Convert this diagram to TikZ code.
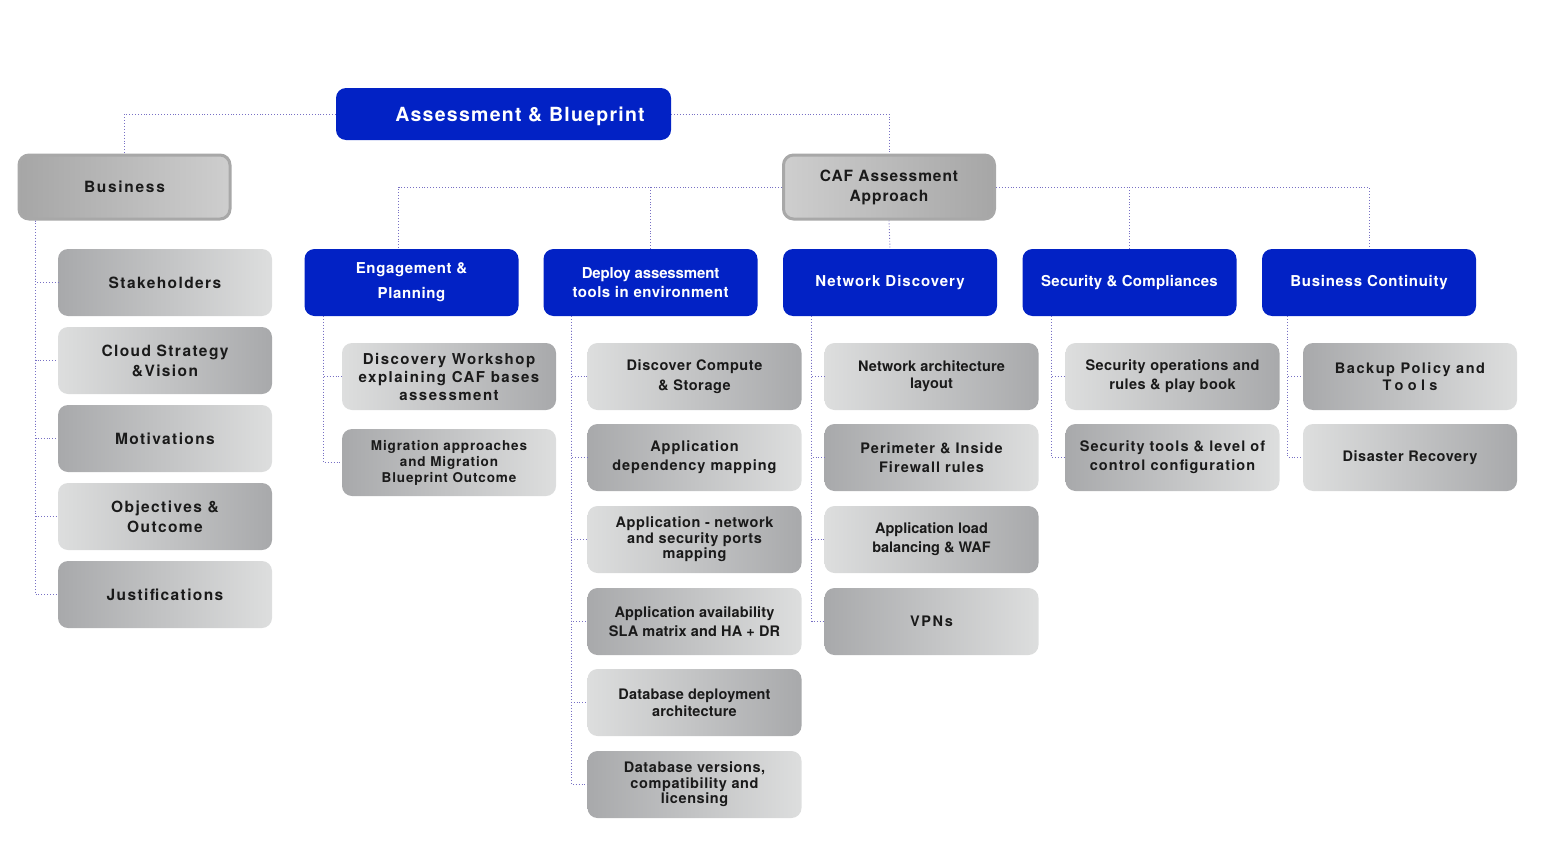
\documentclass[tikz,border=0pt]{standalone}
\usepackage{fontspec}
\setmainfont{TeX Gyre Heros}
\usetikzlibrary{calc}
\definecolor{cblue}{RGB}{2,34,197}
\definecolor{cdark}{RGB}{168,169,171}
\definecolor{cmid}{RGB}{212,213,213}
\definecolor{clight}{RGB}{221,222,222}
\definecolor{cbdark}{RGB}{166,166,166}
\definecolor{cblight}{RGB}{206,206,206}
\definecolor{cconn}{RGB}{120,112,196}
\definecolor{ctext}{RGB}{26,26,26}
\definecolor{cborder}{RGB}{168,168,168}
\newcommand{\gfont}{\fontsize{14.5}{19}\selectfont\bfseries\addfontfeature{LetterSpace=4}}
\newcommand{\lfont}{\fontsize{15.5}{20}\selectfont\bfseries\addfontfeature{LetterSpace=9}}
\newcommand{\bfontx}{\fontsize{15}{19}\selectfont\bfseries}
\tikzset{
  base/.style={rounded corners=10pt, minimum width=214pt, minimum height=67pt, align=center, inner sep=0pt},
  bluebox/.style={base, fill=cblue, text=white, font=\bfontx},
  gl/.style={base, left color=cdark, middle color=cmid, right color=clight, text=ctext, font=\gfont},
  gr/.style={base, left color=clight, middle color=cmid, right color=cdark, text=ctext, font=\gfont},
  topbox/.style={base, minimum width=211pt, minimum height=64pt, draw=cborder, line width=3pt, text=ctext, font=\fontsize{15.5}{20}\selectfont\bfseries\addfontfeature{LetterSpace=6}},
  conn/.style={draw=cconn, line width=0.9pt, dotted},
}
\begin{document}
\begin{tikzpicture}[x=1pt,y=-1pt]
\useasboundingbox (0,0) rectangle (1549,859);
% top
\node[base, fill=cblue, minimum width=335pt, minimum height=52pt] (ab) at (503.5,114) {};
\node[text=white, font=\fontsize{19.5}{22}\selectfont\bfseries\addfontfeature{LetterSpace=6.5}] (abt) at (520,116) {Assessment \& Blueprint};
\node[topbox, left color=cbdark, right color=cblight, font=\fontsize{15.5}{20}\selectfont\bfseries\addfontfeature{LetterSpace=11}] (bus) at (124.5,187) {Business};
\node[topbox, left color=cblight, right color=cbdark] (caf) at (889,187) {CAF Assessment\\Approach};
% blue row
\node[bluebox, font=\fontsize{15}{25}\selectfont\bfseries\addfontfeature{LetterSpace=4}] (eng) at (411.5,282.5) {Engagement \&\\Planning};
\node[bluebox] (dep) at (650.5,282.5) {{\addfontfeature{LetterSpace=-1}Deploy assessment}\\{\addfontfeature{LetterSpace=3.5}tools in environment}};
\node[bluebox] (net) at (890,282.5) {\addfontfeature{LetterSpace=6.5}Network Discovery};
\node[bluebox] (sec) at (1129.5,282.5) {\addfontfeature{LetterSpace=1.7}Security \& Compliances};
\node[bluebox] (bc) at (1369,282.5) {\addfontfeature{LetterSpace=4.8}Business Continuity};
% business children
\node[gl, font=\lfont] (b1) at (165,282.5) {Stakeholders};
\node[gr, font=\lfont] (b2) at (165,360.5) {Cloud Strategy\\\&Vision};
\node[gl, font=\lfont] (b3) at (165,438.5) {Motivations};
\node[gr, font=\lfont] (b4) at (165,516.5) {Objectives \&\\Outcome};
\node[gl, font=\lfont] (b5) at (165,594.5) {Justifications};
% engagement children
\node[gr, font=\fontsize{15}{18}\selectfont\bfseries\addfontfeature{LetterSpace=10}] (e1) at (449,376.5) {Discovery Workshop\\explaining CAF bases\\assessment};
\node[gl, font=\fontsize{13.5}{16}\selectfont\bfseries\addfontfeature{LetterSpace=6.5}] (e2) at (449,462.5) {Migration approaches\\and Migration\\Blueprint Outcome};
% deploy children
\node[gr, font=\fontsize{14.5}{20}\selectfont\bfseries\addfontfeature{LetterSpace=4}] (d1) at (694.5,376.5) {Discover Compute\\\& Storage};
\node[gl, font=\fontsize{14.5}{19}\selectfont\bfseries\addfontfeature{LetterSpace=6.5}] (d2) at (694.5,457.5) {Application\\dependency mapping};
\node[gr, font=\fontsize{14.5}{15.5}\selectfont\bfseries\addfontfeature{LetterSpace=4}] (d3) at (694.5,539.5) {Application - network\\and security ports\\mapping};
\node[gl, font=\fontsize{14.5}{19.5}\selectfont\bfseries\addfontfeature{LetterSpace=1}] (d4) at (694.5,621.5) {Application availability\\SLA matrix and HA + DR};
\node[gr, font=\fontsize{14.5}{17}\selectfont\bfseries\addfontfeature{LetterSpace=1}] (d5) at (694.5,702.5) {Database deployment\\architecture};
\node[gl, font=\fontsize{14.5}{15.5}\selectfont\bfseries\addfontfeature{LetterSpace=4}] (d6) at (694.5,784.5) {Database versions,\\compatibility and\\licensing};
% network children
\node[gr, font=\fontsize{14.5}{17}\selectfont\bfseries\addfontfeature{LetterSpace=1}] (n1) at (931.5,376.5) {Network architecture\\layout};
\node[gl, font=\fontsize{14.5}{19}\selectfont\bfseries\addfontfeature{LetterSpace=7}] (n2) at (931.5,457.5) {Perimeter \& Inside\\Firewall rules};
\node[gr, font=\fontsize{14.5}{19}\selectfont\bfseries\addfontfeature{LetterSpace=0}] (n3) at (931.5,539.5) {Application load\\balancing \& WAF};
\node[gl, font=\fontsize{14.5}{19}\selectfont\bfseries\addfontfeature{LetterSpace=11}] (n4) at (931.5,621.5) {VPNs};
% security children
\node[gr, font=\fontsize{14.5}{19}\selectfont\bfseries\addfontfeature{LetterSpace=3}] (s1) at (1172.5,376.5) {Security operations and\\rules \& play book};
\node[gl, font=\fontsize{14.5}{19}\selectfont\bfseries\addfontfeature{LetterSpace=7.5}] (s2) at (1172.5,457.5) {Security tools \& level of\\control configuration};
% bc children
\node[gl, font=\fontsize{14.5}{17}\selectfont\bfseries\addfontfeature{LetterSpace=10.5}] (c1) at (1410,376.5) {Backup Policy and\\{\addfontfeature{LetterSpace=30}Tools}};
\node[gr] (c2) at (1410,457.5) {Disaster Recovery};
% connectors top
\draw[conn] (ab.west) -| (bus.north);
\draw[conn] (ab.east) -| (caf.north);
\draw[conn] (caf.west) -| ([xshift=-13pt]eng.north);
\draw[conn] (dep.north) -- (dep.north |- caf.west);
\draw[conn] (caf.east) -| (bc.north);
\draw[conn] (sec.north) -- (sec.north |- caf.east);
\draw[conn] (caf.south) -- (net.north);
% children connectors
\foreach \c in {b1,b2,b3,b4,b5} \draw[conn] (bus.south west) ++(18pt,0) |- (\c.west);
\foreach \c in {e1,e2} \draw[conn] (eng.south west) ++(19pt,0) |- (\c.west);
\foreach \c in {d1,d2,d3,d4,d5,d6} \draw[conn] (dep.south west) ++(28pt,0) |- (\c.west);
\foreach \c in {n1,n2,n3,n4} \draw[conn] (net.south west) ++(29pt,0) |- (\c.west);
\foreach \c in {s1,s2} \draw[conn] (sec.south west) ++(29pt,0) |- (\c.west);
\foreach \c in {c1,c2} \draw[conn] (bc.south west) ++(26pt,0) |- (\c.west);
\end{tikzpicture}
\end{document}
